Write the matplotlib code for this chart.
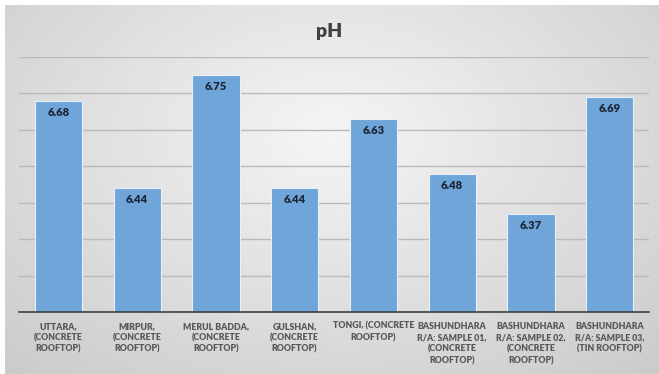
import matplotlib.pyplot as plt
import numpy as np

plt.rcParams['font.family'] = ['Lato', 'DejaVu Sans']

locations = [
    "UTTARA,\n(CONCRETE\nROOFTOP)",
    "MIRPUR,\n(CONCRETE\nROOFTOP)",
    "MERUL BADDA,\n(CONCRETE\nROOFTOP)",
    "GULSHAN,\n(CONCRETE\nROOFTOP)",
    "TONGI, (CONCRETE\nROOFTOP)",
    "BASHUNDHARA\nR/A: SAMPLE 01,\n(CONCRETE\nROOFTOP)",
    "BASHUNDHARA\nR/A: SAMPLE 02,\n(CONCRETE\nROOFTOP)",
    "BASHUNDHARA\nR/A: SAMPLE 03,\n(TIN ROOFTOP)",
]
ph = [6.68, 6.44, 6.75, 6.44, 6.63, 6.48, 6.37, 6.69]

fig = plt.figure(figsize=(6.59, 3.74), dpi=100)
fig.patch.set_facecolor('white')

# grey radial backdrop for the chart area
bg = fig.add_axes([5 / 659, 0, 654 / 659, 369 / 374], zorder=0)
yy, xx = np.mgrid[0:1:200j, 0:1:350j]
r = np.sqrt(((xx - 0.5) / 0.75) ** 2 + ((yy - 0.35) / 0.9) ** 2)
shade = np.clip(0.96 - 0.17 * r, 0.78, 0.96)
bg.imshow(shade, cmap='gray', vmin=0, vmax=1, aspect='auto',
          extent=[0, 1, 1, 0], interpolation='bilinear')
bg.axis('off')

ax = fig.add_axes([19 / 659, 1 - 312 / 374, 630 / 659, 255 / 374], zorder=1)
ax.patch.set_alpha(0)

x = np.arange(len(ph))
bars = ax.bar(x, ph, width=0.6, bottom=0, color='#6fa5d9',
              edgecolor='#e8f0f8', linewidth=0.8, zorder=3)
ax.set_ylim(6.1, 6.8)
ax.set_xlim(-0.5, len(ph) - 0.5)
ax.set_yticks(np.arange(6.1, 6.81, 0.1))
ax.yaxis.grid(True, color='#bababa', linewidth=1.0, zorder=0)
ax.tick_params(axis='y', length=0, labelleft=False)
ax.tick_params(axis='x', length=0, pad=7)
ax.set_xticks(x)
ax.set_xticklabels(locations, fontsize=6.3, fontweight='heavy',
                   color='#595959', linespacing=1.35)
for side in ['left', 'right', 'top']:
    ax.spines[side].set_visible(False)
ax.spines['bottom'].set_color('#404040')
ax.spines['bottom'].set_linewidth(1.2)
ax.spines['bottom'].set_zorder(4)

for b, v in zip(bars, ph):
    ax.text(b.get_x() + b.get_width() / 2, v - 0.017, f"{v:.2f}",
            ha='center', va='top', fontsize=8, fontweight='heavy',
            color='#1a2433', zorder=5)

fig.text(0.5, 1 - 32 / 374, "pH", ha='center', va='center',
         fontsize=14, fontweight='heavy', color='#404040')

fig.savefig('out.png', dpi=100)
